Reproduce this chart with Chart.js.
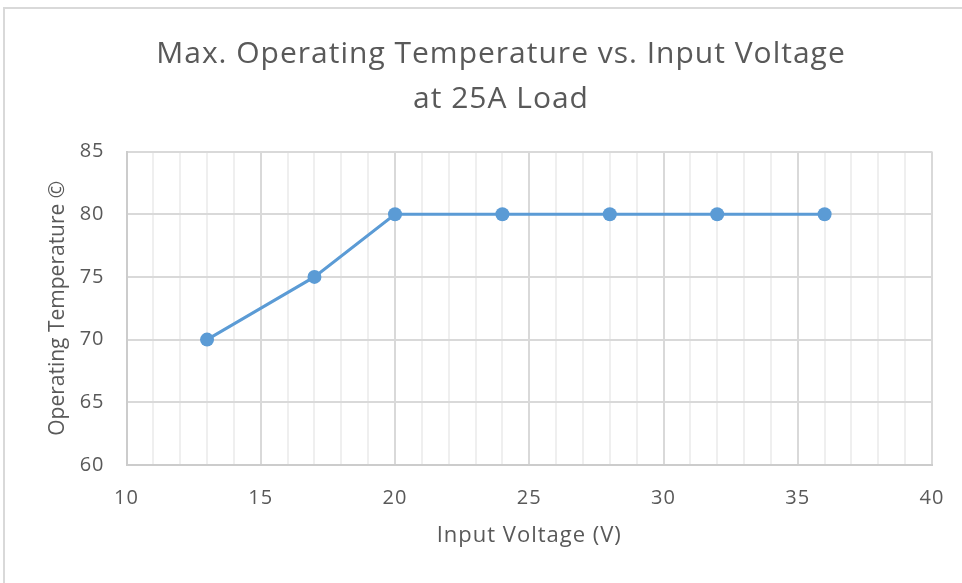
<!DOCTYPE html>
<html>
<head>
<meta charset="utf-8">
<title>Max. Operating Temperature vs. Input Voltage</title>
<script src="https://cdn.jsdelivr.net/npm/chart.js@4"></script>
<style>
    html, body { margin: 0; padding: 0; background: #fff; overflow: hidden; width: 962px; height: 583px; }
    #moldura { position: absolute; left: 3px; top: 7px; width: 1100px; height: 700px; border: 2px solid #d9d9d9; box-sizing: border-box; }
    #area { position: absolute; left: 0; top: 0; width: 1002px; height: 583px; }
</style>
</head>
<body>
<div id="moldura"></div>
<div id="area"><canvas id="Graficotemperatura" width="1002" height="583"></canvas></div>
<script>
// Dados
const tensaoEntrada = [13, 17, 20, 24, 28, 32, 36];
const temperaturaMax = [70, 75, 80, 80, 80, 80, 80];
const tituloLinhas = ['Max. Operating Temperature vs. Input Voltage', 'at 25A Load'];
const tituloX = 'Input Voltage (V)';
const tituloY = 'Operating Temperature ©';

// cores
const azul = '#5b9bd5';
const cinzaTexto = '#595959';
const gradeMaior = '#d9d9d9';
const gradeMenor = '#efefef';

// Configurações globais do Chart.js
Chart.defaults.font.family = "'Open Sans', sans-serif";
Chart.defaults.color = cinzaTexto;

// O texto do original é mais largo: um pouco de espaçamento entre letras
const espacamentoLetras = {
    id: 'espacamentoLetras',
    beforeLayout(chart) { chart.ctx.letterSpacing = '1px'; },
    beforeDraw(chart) { chart.ctx.letterSpacing = '1px'; }
};

const pontos = tensaoEntrada.map((v, i) => ({ x: v, y: temperaturaMax[i] }));

const ctx = document.getElementById('Graficotemperatura').getContext('2d');
const Graficotemperatura = new Chart(ctx, {
    type: 'scatter',
    data: {
        datasets: [{
            label: 'Temperatura',
            data: pontos,
            showLine: true,
            borderColor: azul,
            borderWidth: 3,
            backgroundColor: azul,
            pointRadius: 7,
            pointBorderWidth: 0,
            pointBackgroundColor: azul,
            tension: 0
        }]
    },
    options: {
        responsive: false,
        animation: false,
        layout: {
            padding: 0
        },
        scales: {
            x: {
                type: 'linear',
                min: 10,
                max: 40,
                afterFit: (scale) => { scale.height = 118; },
                ticks: {
                    stepSize: 1,
                    autoSkip: false,
                    maxRotation: 0,
                    padding: 21,
                    font: { size: 20 },
                    callback: (v) => (v % 5 === 0 ? v : '')
                },
                grid: {
                    drawTicks: false,
                    lineWidth: 2,
                    color: (c) => (c.tick && c.tick.value % 5 === 0 ? gradeMaior : gradeMenor)
                },
                border: { color: '#cccccc', width: 2 },
                title: {
                    display: true,
                    text: tituloX,
                    font: { size: 22 },
                    padding: { top: 0, bottom: 34 }
                }
            },
            y: {
                min: 60,
                max: 85,
                afterFit: (scale) => {
                    scale.width = 126.5;
                    // título vertical sem espaçamento extra
                    if (!scale._semEspaco) {
                        const desenhaTitulo = scale.drawTitle;
                        scale.drawTitle = function () {
                            const c = this.ctx;
                            c.letterSpacing = '0px';
                            desenhaTitulo.call(this);
                            c.letterSpacing = '1px';
                        };
                        scale._semEspaco = true;
                    }
                },
                ticks: {
                    stepSize: 5,
                    padding: 22,
                    font: { size: 20 }
                },
                grid: {
                    drawTicks: false,
                    lineWidth: 2,
                    color: gradeMaior
                },
                border: { color: '#cccccc', width: 2 },
                title: {
                    display: true,
                    text: tituloY,
                    font: { size: 21 },
                    padding: { top: 45, bottom: 0 }
                }
            },
            // eixo vazio só para reservar a margem direita
            margem: {
                position: 'right',
                afterFit: (scale) => { scale.width = 70; },
                grid: { display: false },
                ticks: { display: false },
                border: { display: false }
            }
        },
        plugins: {
            legend: { display: false },
            tooltip: { enabled: false },
            title: {
                display: true,
                text: tituloLinhas,
                color: cinzaTexto,
                font: { size: 30, weight: 'normal', lineHeight: 1.5 },
                padding: { top: 31.5, bottom: 30 }
            }
        }
    },
    plugins: [espacamentoLetras]
});
</script>
</body>
</html>
